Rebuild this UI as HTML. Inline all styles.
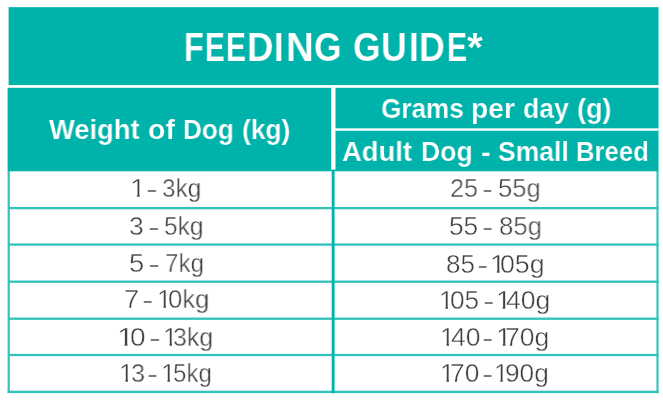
<!DOCTYPE html>
<html><head><meta charset="utf-8">
<style>
html,body{margin:0;padding:0;background:#fff;width:663px;height:400px;overflow:hidden;}
body{position:relative;font-family:"Liberation Sans",sans-serif;}
.t{position:absolute;white-space:nowrap;line-height:1;transform-origin:0 0;will-change:transform;}
.h{color:#fff;font-weight:bold;-webkit-text-stroke:0.2px #00B3AA;}
.one{clip-path:polygon(0 0,100% 0,100% 0.765em,0.342em 0.765em,0.342em 100%,0.243em 100%,0.243em 0.765em,0 0.765em);}
.d{color:#404040;font-weight:normal;-webkit-text-stroke:0.42px #fff;}
</style></head><body>
<div class="b"><svg width="663" height="400" viewBox="0 0 663 400" style="position:absolute;left:0;top:0">
<rect x="8.6" y="7.15" width="649.9" height="77.9" fill="#00B3AA"/>
<rect x="7.6" y="87.8" width="650.9" height="83.5" fill="#00B3AA"/>
<rect x="331.2" y="87.3" width="4.3" height="82.3" fill="#fff"/>
<rect x="335.0" y="128.34" width="323.5" height="2.4" fill="#fff"/>
<g opacity="0.8">
<rect x="7.6" y="171.0" width="2.2" height="222.1" fill="#00B3AA"/>
<rect x="656.42" y="171.0" width="2.16" height="222.1" fill="#00B3AA"/>
<rect x="7.6" y="390.7" width="650.98" height="2.4" fill="#00B3AA"/>
<rect x="8.6" y="206.95" width="649.9" height="2.3" fill="#00B3AA"/>
<rect x="8.6" y="243.45" width="649.9" height="2.3" fill="#00B3AA"/>
<rect x="8.6" y="280.55" width="649.9" height="2.3" fill="#00B3AA"/>
<rect x="8.6" y="317.55" width="649.9" height="2.3" fill="#00B3AA"/>
<rect x="8.6" y="353.85" width="649.9" height="2.3" fill="#00B3AA"/>
</g>
<rect x="331.71" y="171.0" width="2.86" height="222.1" fill="#00B3AA"/>
</svg></div>
<div id="t0_0" class="t h t0" style="left:183.96px;top:26.79px;font-size:40.00px;transform:scaleX(0.8081)">F</div>
<div id="t0_1" class="t h t0" style="left:204.65px;top:26.79px;font-size:40.00px;transform:scaleX(0.7391)">E</div>
<div id="t0_2" class="t h t0" style="left:225.94px;top:26.79px;font-size:40.00px;transform:scaleX(0.7453)">E</div>
<div id="t0_3" class="t h t0" style="left:246.59px;top:26.79px;font-size:40.00px;transform:scaleX(0.9144)">D</div>
<div id="t0_4" class="t h t0" style="left:274.17px;top:26.79px;font-size:40.00px;transform:scaleX(0.8544)">I</div>
<div id="t0_5" class="t h t0" style="left:285.52px;top:26.79px;font-size:40.00px;transform:scaleX(0.9601)">N</div>
<div id="t0_6" class="t h t0" style="left:313.64px;top:26.79px;font-size:40.00px;transform:scaleX(0.8835)">G</div>
<div id="t0_7" class="t h t0" style="left:352.64px;top:26.79px;font-size:40.00px;transform:scaleX(0.8835)">G</div>
<div id="t0_8" class="t h t0" style="left:380.69px;top:26.79px;font-size:40.00px;transform:scaleX(0.8923)">U</div>
<div id="t0_9" class="t h t0" style="left:408.60px;top:26.79px;font-size:40.00px;transform:scaleX(0.8706)">I</div>
<div id="t0_10" class="t h t0" style="left:419.36px;top:26.79px;font-size:40.00px;transform:scaleX(0.8960)">D</div>
<div id="t0_11" class="t h t0" style="left:446.96px;top:26.79px;font-size:40.00px;transform:scaleX(0.7516)">E</div>
<div id="t0_12" class="t h t0" style="left:466.69px;top:26.79px;font-size:40.00px;transform:scaleX(1.0184)">*</div>
<div id="t1_0" class="t h t1" style="left:49.03px;top:115.33px;font-size:28.20px;transform:scaleX(0.9705)">Weight</div>
<div id="t1_1" class="t h t1" style="left:147.80px;top:115.33px;font-size:28.20px;transform:scaleX(1.0099)">of</div>
<div id="t1_2" class="t h t1" style="left:183.28px;top:115.33px;font-size:28.20px;transform:scaleX(0.9299)">Dog</div>
<div id="t1_3" class="t h t1" style="left:241.82px;top:115.33px;font-size:28.20px;transform:scaleX(0.9347)">(kg)</div>
<div id="t2_0" class="t h t2" style="left:381.43px;top:94.00px;font-size:28.20px;transform:scaleX(0.9264)">Grams</div>
<div id="t2_1" class="t h t2" style="left:471.27px;top:94.00px;font-size:28.20px;transform:scaleX(0.9937)">per</div>
<div id="t2_2" class="t h t2" style="left:522.59px;top:94.00px;font-size:28.20px;transform:scaleX(0.9416)">day</div>
<div id="t2_3" class="t h t2" style="left:576.74px;top:94.00px;font-size:28.20px;transform:scaleX(0.9582)">(g)</div>
<div id="t3_0" class="t h t3" style="left:342.19px;top:137.25px;font-size:28.20px;transform:scaleX(0.9740)">Adult</div>
<div id="t3_1" class="t h t3" style="left:421.30px;top:137.25px;font-size:28.20px;transform:scaleX(0.9459)">Dog</div>
<div id="t3_2" class="t h t3" style="left:480.50px;top:137.75px;font-size:28.20px;transform:scaleX(1.0165)">-</div>
<div id="t3_3" class="t h t3" style="left:497.85px;top:137.25px;font-size:28.20px;transform:scaleX(0.9416)">Small</div>
<div id="t3_4" class="t h t3" style="left:576.06px;top:137.25px;font-size:28.20px;transform:scaleX(0.9110)">Breed</div>
<div id="l0_0" class="t d l0 one" style="left:129.83px;top:174.61px;font-size:26.00px;transform:scaleX(1.0933)">1</div>
<div id="l0_1" class="t d l0" style="left:145.88px;top:175.61px;font-size:26.00px;transform:scaleX(1.3583)">-</div>
<div id="l0_2" class="t d l0" style="left:162.31px;top:174.61px;font-size:26.00px;transform:scaleX(0.9341)">3kg</div>
<div id="l1_0" class="t d l1" style="left:128.75px;top:212.94px;font-size:26.00px;transform:scaleX(1.0167)">3</div>
<div id="l1_1" class="t d l1" style="left:147.98px;top:213.94px;font-size:26.00px;transform:scaleX(1.3583)">-</div>
<div id="l1_2" class="t d l1" style="left:164.41px;top:212.94px;font-size:26.00px;transform:scaleX(0.9387)">5kg</div>
<div id="l2_0" class="t d l2" style="left:129.45px;top:250.43px;font-size:26.00px;transform:scaleX(1.0515)">5</div>
<div id="l2_1" class="t d l2" style="left:148.36px;top:251.43px;font-size:26.00px;transform:scaleX(1.4122)">-</div>
<div id="l2_2" class="t d l2" style="left:164.68px;top:250.43px;font-size:26.00px;transform:scaleX(0.9299)">7kg</div>
<div id="l3_0" class="t d l3" style="left:124.08px;top:285.64px;font-size:26.00px;transform:scaleX(1.0536)">7</div>
<div id="l3_1" class="t d l3" style="left:142.33px;top:286.64px;font-size:26.00px;transform:scaleX(1.3264)">-</div>
<div id="l3_2" class="t d l3 one" style="left:157.03px;top:285.64px;font-size:26.00px;transform:scaleX(1.0096)">1</div>
<div id="l3_3" class="t d l3" style="left:167.63px;top:285.64px;font-size:26.00px;transform:scaleX(0.9847)">0kg</div>
<div id="l4_0" class="t d l4 one" style="left:117.37px;top:323.70px;font-size:26.00px;transform:scaleX(1.1812)">1</div>
<div id="l4_1" class="t d l4" style="left:130.33px;top:323.70px;font-size:26.00px;transform:scaleX(1.0788)">0</div>
<div id="l4_2" class="t d l4" style="left:149.46px;top:324.70px;font-size:26.00px;transform:scaleX(1.3576)">-</div>
<div id="l4_3" class="t d l4 one" style="left:163.02px;top:323.70px;font-size:26.00px;transform:scaleX(1.0096)">1</div>
<div id="l4_4" class="t d l4" style="left:173.27px;top:323.70px;font-size:26.00px;transform:scaleX(0.9560)">3kg</div>
<div id="l5_0" class="t d l5 one" style="left:119.02px;top:360.21px;font-size:26.00px;transform:scaleX(1.0096)">1</div>
<div id="l5_1" class="t d l5" style="left:130.95px;top:360.21px;font-size:26.00px;transform:scaleX(0.9691)">3</div>
<div id="l5_2" class="t d l5" style="left:147.49px;top:361.21px;font-size:26.00px;transform:scaleX(1.2983)">-</div>
<div id="l5_3" class="t d l5 one" style="left:161.02px;top:360.21px;font-size:26.00px;transform:scaleX(1.0096)">1</div>
<div id="l5_4" class="t d l5" style="left:172.58px;top:360.21px;font-size:26.00px;transform:scaleX(0.9266)">5kg</div>
<div id="r0_0" class="t d r0" style="left:449.79px;top:175.33px;font-size:26.00px;transform:scaleX(0.9669)">25</div>
<div id="r0_1" class="t d r0" style="left:481.57px;top:176.33px;font-size:26.00px;transform:scaleX(1.2661)">-</div>
<div id="r0_2" class="t d r0" style="left:498.03px;top:175.33px;font-size:26.00px;transform:scaleX(0.9828)">55g</div>
<div id="r1_0" class="t d r1" style="left:448.89px;top:212.75px;font-size:26.00px;transform:scaleX(1.0113)">55</div>
<div id="r1_1" class="t d r1" style="left:482.42px;top:213.75px;font-size:26.00px;transform:scaleX(1.3265)">-</div>
<div id="r1_2" class="t d r1" style="left:499.05px;top:212.75px;font-size:26.00px;transform:scaleX(0.9883)">85g</div>
<div id="r2_0" class="t d r2" style="left:446.01px;top:251.19px;font-size:26.00px;transform:scaleX(0.9847)">85</div>
<div id="r2_1" class="t d r2" style="left:476.97px;top:252.19px;font-size:26.00px;transform:scaleX(1.3200)">-</div>
<div id="r2_2" class="t d r2 one" style="left:489.91px;top:251.19px;font-size:26.00px;transform:scaleX(1.0804)">1</div>
<div id="r2_3" class="t d r2" style="left:500.19px;top:251.19px;font-size:26.00px;transform:scaleX(1.0279)">05g</div>
<div id="r3_0" class="t d r3 one" style="left:439.03px;top:287.19px;font-size:26.00px;transform:scaleX(1.0096)">1</div>
<div id="r3_1" class="t d r3" style="left:450.46px;top:287.19px;font-size:26.00px;transform:scaleX(1.0088)">05</div>
<div id="r3_2" class="t d r3" style="left:483.13px;top:288.19px;font-size:26.00px;transform:scaleX(1.3286)">-</div>
<div id="r3_3" class="t d r3 one" style="left:496.01px;top:287.19px;font-size:26.00px;transform:scaleX(1.0534)">1</div>
<div id="r3_4" class="t d r3" style="left:505.96px;top:287.19px;font-size:26.00px;transform:scaleX(1.0227)">40g</div>
<div id="r4_0" class="t d r4 one" style="left:440.03px;top:324.24px;font-size:26.00px;transform:scaleX(1.0096)">1</div>
<div id="r4_1" class="t d r4" style="left:451.02px;top:324.24px;font-size:26.00px;transform:scaleX(1.0207)">40</div>
<div id="r4_2" class="t d r4" style="left:482.47px;top:325.24px;font-size:26.00px;transform:scaleX(1.3275)">-</div>
<div id="r4_3" class="t d r4 one" style="left:495.96px;top:324.24px;font-size:26.00px;transform:scaleX(1.0676)">1</div>
<div id="r4_4" class="t d r4" style="left:505.28px;top:324.24px;font-size:26.00px;transform:scaleX(1.0219)">70g</div>
<div id="r5_0" class="t d r5 one" style="left:440.03px;top:360.42px;font-size:26.00px;transform:scaleX(1.0096)">1</div>
<div id="r5_1" class="t d r5" style="left:450.42px;top:360.42px;font-size:26.00px;transform:scaleX(1.0130)">70</div>
<div id="r5_2" class="t d r5" style="left:482.15px;top:361.42px;font-size:26.00px;transform:scaleX(1.3133)">-</div>
<div id="r5_3" class="t d r5 one" style="left:494.19px;top:360.42px;font-size:26.00px;transform:scaleX(0.9813)">1</div>
<div id="r5_4" class="t d r5" style="left:505.20px;top:360.42px;font-size:26.00px;transform:scaleX(1.0109)">90g</div>
</body></html>
